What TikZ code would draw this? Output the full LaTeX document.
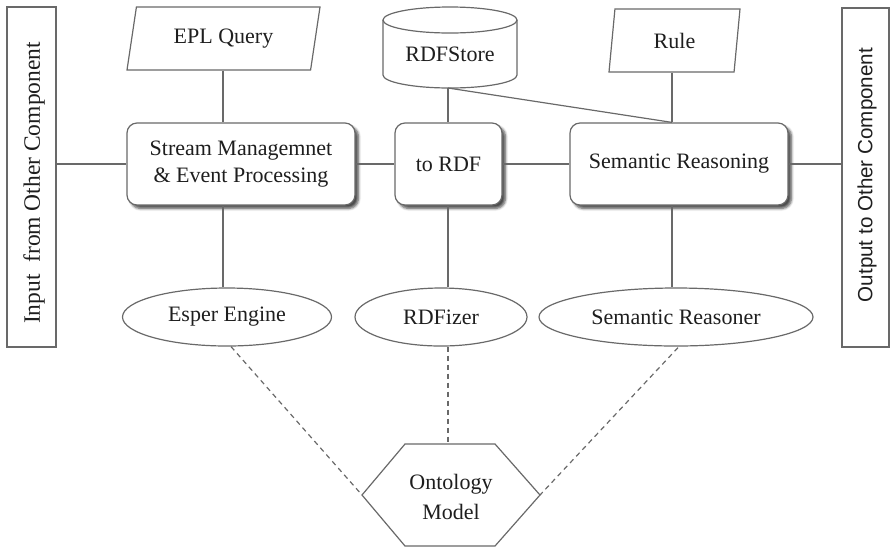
\documentclass[tikz,border=0pt]{standalone}
\usepackage{fontspec}
\newfontfamily\timesfont{Liberation Serif}
\newfontfamily\arialfont{Liberation Sans}
\usetikzlibrary{shapes.geometric,shadows.blur,calc}
\definecolor{linecol}{RGB}{105,105,105}
\definecolor{txtcol}{RGB}{30,30,30}
\begin{document}
\begin{tikzpicture}[x=1pt,y=-1pt,
  font=\timesfont\fontsize{22}{27}\selectfont, text=txtcol,
  lnk/.style={draw=linecol, line width=1.2pt},
  dsh/.style={lnk, dash pattern=on 5pt off 4pt},
  roundbox/.style={draw=linecol, line width=1.2pt, fill=white, rounded corners=10pt, align=center, inner sep=0pt,
    blur shadow={shadow xshift=3.5pt, shadow yshift=-3.5pt, shadow blur steps=6, shadow blur radius=2.5pt, shadow opacity=70}},
  oval/.style={ellipse, draw=linecol, line width=1.2pt, fill=white, inner sep=0pt},
  para/.style={trapezium, draw=linecol, line width=1.2pt, trapezium stretches body, inner sep=0pt},
  sidebar/.style={draw=linecol, line width=1.2pt, rectangle, inner sep=0pt}]
\useasboundingbox (0,0) rectangle (890,550);

% side bars
\node[sidebar, minimum width=49pt, minimum height=340pt] (inbar) at (31.5,177) {};
\node[rotate=90, font=\timesfont\fontsize{23.5}{27}\selectfont] (intext) at (34,183) {Input\ \ from Other Component};
\node[sidebar, minimum width=47pt, minimum height=339pt] (outbar) at (865.5,177.5) {};
\node[rotate=90, font=\arialfont\fontsize{20.6}{24}\selectfont] (outtext) at (867,175) {Output to Other Component};

% top inputs
\node[para, trapezium left angle=64, trapezium right angle=116, minimum width=193pt, minimum height=63pt] (epl) at (223.5,38.5) {EPL Query};
\node[para, trapezium left angle=69, trapezium right angle=111, minimum width=131pt, minimum height=63pt] (rule) at (674.5,40.5) {Rule};

% RDF store cylinder
\draw[lnk, fill=white] (383,20) -- (383,75) arc[start angle=180, end angle=0, x radius=67, y radius=13] -- (517,20);
\draw[lnk] (450,20) ellipse [x radius=67, y radius=13];
\node (rdfstore) at (450,54) {RDFStore};
\coordinate (storebot) at (448,88);

% processing boxes
\node[roundbox, minimum width=228pt, minimum height=82pt] (stream) at (241,164) {Stream Managemnet\\\& Event Processing};
\node[roundbox, minimum width=107pt, minimum height=82pt] (tordf) at (448.5,164) {to RDF};
\node[roundbox, minimum width=218pt, minimum height=82pt] (sr) at (679,164) {Semantic Reasoning};

% engines
\node[oval, minimum width=209pt, minimum height=58pt] (esper) at (227,317) {Esper Engine};
\node[oval, minimum width=172pt, minimum height=58pt] (rdfizer) at (441,317) {RDFizer};
\node[oval, minimum width=274pt, minimum height=58pt] (reasoner) at (676,317) {Semantic Reasoner};

% ontology hexagon
\draw[lnk, fill=white] (405,444) -- (495,444) -- (540,495) -- (495,546) -- (405,546) -- (362,495) -- cycle;
\node[align=center, font=\timesfont\fontsize{22}{30}\selectfont] (onto) at (451,497) {Ontology\\Model};
\coordinate (hexL) at (362,495);
\coordinate (hexR) at (540,495);
\coordinate (hexT) at (448,444);

% column coordinates
\coordinate (xa) at (223,0);
\coordinate (xb) at (448,0);
\coordinate (xc) at (672,0);

% solid connectors
\draw[lnk] (inbar.east |- stream.west) -- (stream.west);
\draw[lnk] (stream.east) -- (stream.east -| tordf.west);
\draw[lnk] (tordf.east) -- (tordf.east -| sr.west);
\draw[lnk] (sr.east) -- (sr.east -| outbar.west);
\draw[lnk] (epl.south -| xa) -- (stream.north -| xa);
\draw[lnk] (stream.south -| xa) -- (esper.north -| xa);
\draw[lnk] (storebot) -- (tordf.north -| xb);
\draw[lnk] (tordf.south -| xb) -- (rdfizer.north -| xb);
\draw[lnk] (rule.south -| xc) -- (sr.north -| xc);
\draw[lnk] (sr.south -| xc) -- (reasoner.north -| xc);
\draw[lnk] (storebot) -- (sr.north -| xc);

% dashed connectors
\draw[dsh] ($(esper.south)+(4,0)$) -- (hexL);
\draw[dsh] (rdfizer.south -| xb) -- (hexT);
\draw[dsh] ($(reasoner.south)+(2,1)$) -- (hexR);
\end{tikzpicture}
\end{document}
